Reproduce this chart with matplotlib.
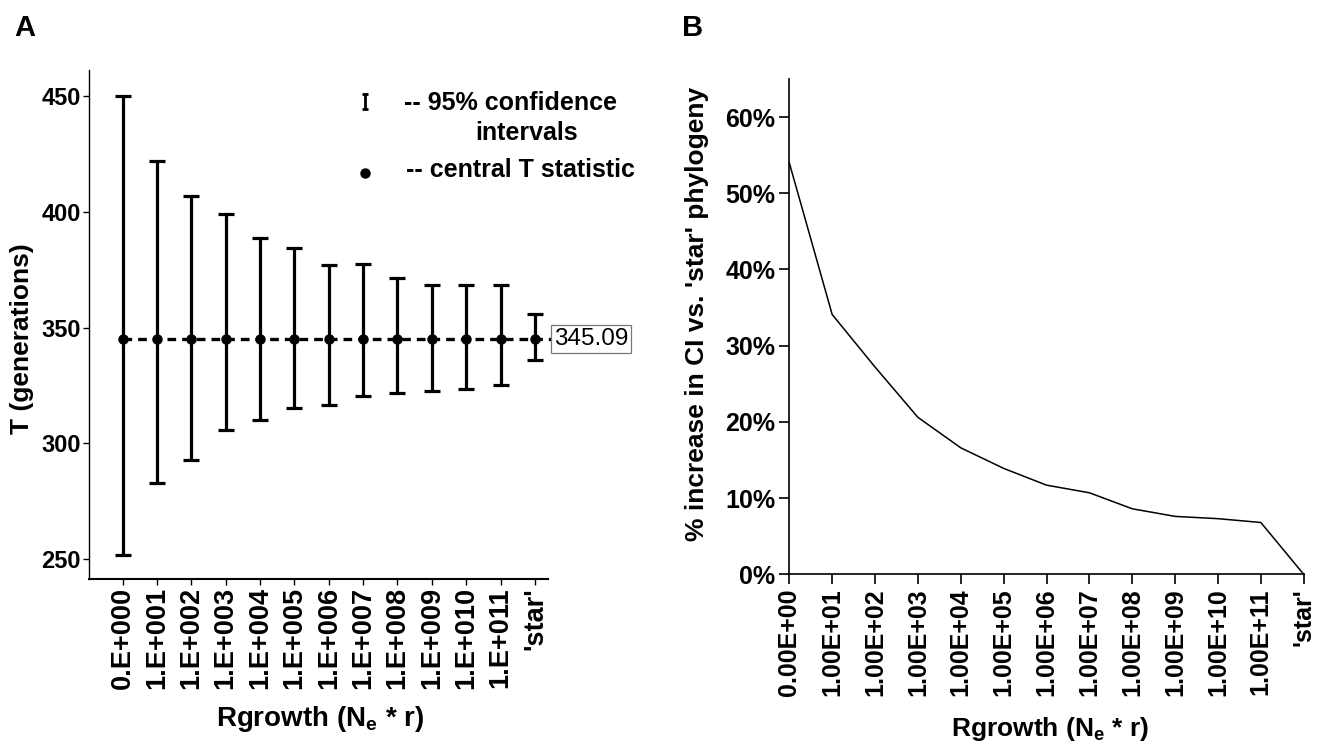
import numpy as np
import matplotlib
matplotlib.use("Agg")
import matplotlib.pyplot as plt
from matplotlib.ticker import FuncFormatter

# polices : Arial -> Liberation Sans
POLICE = ['Liberation Sans', 'DejaVu Sans']
plt.rcParams['mathtext.fontset'] = 'custom'
plt.rcParams['mathtext.rm'] = 'Liberation Sans:bold'
plt.rcParams['mathtext.it'] = 'Liberation Sans:bold'

# ---- donnees panneau A
labels_a = ['0.E+000', '1.E+001', '1.E+002', '1.E+003', '1.E+004', '1.E+005',
            '1.E+006', '1.E+007', '1.E+008', '1.E+009', '1.E+010', '1.E+011', "'star'"]
t_central = 345.09
ci_haut = [450.0, 422.1, 406.8, 399.2, 388.6, 384.3, 377.0, 377.4, 371.3, 368.6, 368.6, 368.5, 355.8]
ci_bas = [251.8, 283.1, 292.8, 305.7, 310.2, 315.1, 316.5, 320.3, 321.8, 322.8, 323.5, 325.2, 335.9]

# ---- donnees panneau B
labels_b = ['0.00E+00', '1.00E+01', '1.00E+02', '1.00E+03', '1.00E+04', '1.00E+05',
            '1.00E+06', '1.00E+07', '1.00E+08', '1.00E+09', '1.00E+10', '1.00E+11', "'star'"]
pct_hausse = [54.0, 34.1, 27.2, 20.6, 16.6, 13.9, 11.7, 10.7, 8.6, 7.6, 7.3, 6.8, 0.0]

W, H = 1321, 744
fig = plt.figure(figsize=(W / 100, H / 100), dpi=100)


def px_axes(l, t, r, b):
    # rectangle en pixels -> fraction de figure
    return [l / W, 1 - b / H, (r - l) / W, (b - t) / H]


# ================= panneau A
ax = fig.add_axes(px_axes(89.3, 70, 548.3, 579))
x = np.arange(len(labels_a))
centre = np.full(len(x), t_central)
err = [centre - np.array(ci_bas), np.array(ci_haut) - centre]
ax.plot([x[0], 12.5], [t_central, t_central], color='k', lw=2.4,
        dashes=(2.6, 1.8), clip_on=False, zorder=1)
ax.errorbar(x, centre, yerr=err, fmt='o', color='k', ms=6.5, elinewidth=2.3,
            capsize=6, capthick=2.3, zorder=3)
ax.text(12.55, t_central, '345.09', family=POLICE, fontsize=17.5, ha='left', va='center',
        bbox=dict(boxstyle='square,pad=0.12', fc='white', ec='#777777', lw=0.9))

# legende dessinee a la main
ax.errorbar([7.05], [447.6], yerr=[[3.2], [3.2]], fmt='none', color='k', elinewidth=2,
            capsize=2.5, capthick=2)
ax.plot([7.05], [416.7], 'o', color='k', ms=6.5)
ax.text(8.2, 447.0, '-- 95% confidence', family=POLICE, fontsize=18, fontweight='bold',
        ha='left', va='center')
ax.text(11.75, 434.0, 'intervals', family=POLICE, fontsize=18, fontweight='bold',
        ha='center', va='center')
ax.text(8.25, 418.0, '-- central T statistic', family=POLICE, fontsize=18, fontweight='bold',
        ha='left', va='center')

ax.set_xlim(-0.97, 12.39)
ax.set_ylim(241.5, 461.2)
ax.set_yticks([250, 300, 350, 400, 450])
ax.set_xticks(x)
ax.set_xticklabels(labels_a, rotation=90, family=POLICE, fontsize=19.5, fontweight='bold')
for lab in ax.get_yticklabels():
    lab.set_family(POLICE)
    lab.set_fontsize(17)
    lab.set_fontweight('bold')
ax.spines['top'].set_visible(False)
ax.spines['right'].set_visible(False)
ax.spines['left'].set_linewidth(1.0)
ax.spines['bottom'].set_linewidth(1.5)
ax.tick_params(direction='out', length=4, width=1, pad=2)

fig.text(22 / W, 1 - 339 / H, 'T (generations)', rotation=90, family=POLICE, fontsize=19,
         fontweight='bold', ha='center', va='center')
fig.text(320 / W, 1 - 719 / H, r'Rgrowth (N$_\mathrm{e}$ * r)', family=POLICE, fontsize=20,
         fontweight='bold', ha='center', va='center')
fig.text(25 / W, 1 - 28 / H, 'A', family=POLICE, fontsize=21, fontweight='bold',
         ha='center', va='center')

# ================= panneau B
bx = fig.add_axes(px_axes(789.3, 79, 1303.7, 574.3))
xb = np.arange(len(labels_b))
bx.plot(xb, pct_hausse, color='k', lw=1.1, clip_on=False)
bx.set_xlim(0, 12)
bx.set_ylim(0, 65)
bx.set_yticks(np.arange(0, 61, 10))
bx.yaxis.set_major_formatter(FuncFormatter(lambda v, p: '%d%%' % v))
bx.set_xticks(xb)
bx.set_xticklabels(labels_b, rotation=90, family=POLICE, fontsize=18, fontweight='bold')
for lab in bx.get_yticklabels():
    lab.set_family(POLICE)
    lab.set_fontsize(18)
    lab.set_fontweight('bold')
bx.spines['top'].set_visible(False)
bx.spines['right'].set_visible(False)
bx.spines['left'].set_linewidth(1.2)
bx.spines['bottom'].set_linewidth(1.2)
bx.tick_params(direction='out', length=7, width=1.2, pad=3)

fig.text(697 / W, 1 - 314 / H, "% increase in CI vs. 'star' phylogeny", rotation=90,
         family=POLICE, fontsize=19, fontweight='bold', ha='center', va='center')
fig.text(1050 / W, 1 - 729 / H, r'Rgrowth (N$_\mathrm{e}$ * r)', family=POLICE, fontsize=19,
         fontweight='bold', ha='center', va='center')
fig.text(693 / W, 1 - 28 / H, 'B', family=POLICE, fontsize=21, fontweight='bold',
         ha='center', va='center')

fig.savefig('out.png', dpi=100, facecolor='white')
